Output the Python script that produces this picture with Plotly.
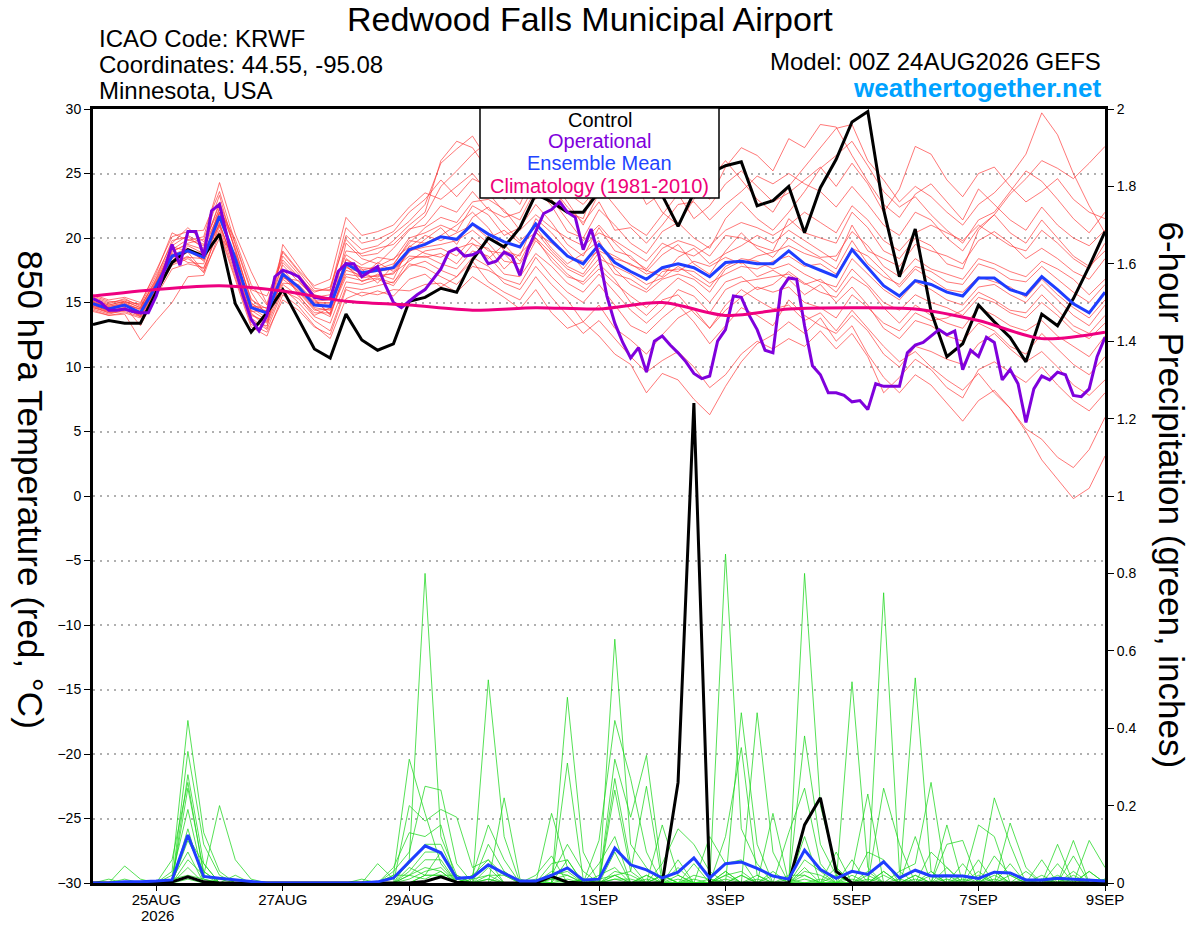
import plotly.graph_objects as go
import pandas as pd

# GEFS 00Z 24AUG2026 run, 6-hourly steps (operational at 3-hourly)
times = pd.date_range("2026-08-24 00:00", periods=65, freq="6h")
times_3h = pd.date_range("2026-08-24 00:00", periods=129, freq="3h")
clim_times = pd.date_range("2026-08-24 00:00", periods=17, freq="1D")

tick_dates = ["2026-08-25", "2026-08-27", "2026-08-29", "2026-09-01",
              "2026-09-03", "2026-09-05", "2026-09-07", "2026-09-09"]
tick_text = ["25AUG", "27AUG", "29AUG", "1SEP", "3SEP", "5SEP", "7SEP", "9SEP"]

# 850 hPa temperature (C)
control_temp = [13.3, 13.6, 13.4, 13.4, 15.8, 18.1, 19.1, 18.6, 20.3, 14.9,
                12.7, 14.2, 16.0, 13.7, 11.4, 10.7, 14.1, 12.1, 11.3, 11.8,
                15.1, 15.4, 16.1, 15.8, 18.3, 20.0, 19.3, 20.8, 23.4, 22.8,
                22.0, 22.0, 23.6, 25.0, 25.5, 24.5, 23.3, 20.9, 23.5, 25.0,
                25.6, 25.9, 22.5, 22.9, 24.0, 20.4, 23.9, 26.1, 29.0, 29.8,
                22.2, 17.0, 20.7, 14.3, 10.8, 11.8, 14.8, 13.5, 12.3, 10.4,
                14.1, 13.2, 15.3, 17.8, 20.5]

operational_temp = [15.3, 15.0, 14.4, 14.4, 14.5, 14.3, 14.2, 14.2, 15.5, 17.5,
                    19.5, 17.9, 20.5, 20.5, 18.6, 22.1, 22.6, 20.0, 17.6, 15.5,
                    13.7, 12.8, 14.0, 17.0, 17.5, 17.3, 17.0, 16.2, 15.4, 15.3,
                    15.3, 17.4, 18.0, 18.0, 17.0, 17.4, 17.8, 16.3, 15.0, 14.6,
                    15.1, 15.6, 16.0, 16.8, 17.6, 18.9, 19.2, 18.6, 18.7, 19.0,
                    18.0, 18.2, 18.9, 18.6, 17.1, 19.1, 20.5, 21.9, 22.2, 22.8,
                    22.0, 21.6, 19.1, 20.7, 18.6, 15.5, 13.4, 11.9, 10.7, 11.5,
                    9.6, 12.0, 12.4, 11.7, 11.1, 10.4, 9.5, 9.1, 9.3, 12.0,
                    12.9, 15.5, 15.4, 14.0, 12.9, 11.3, 11.1, 16.0, 16.9, 16.8,
                    13.2, 10.1, 9.4, 8.0, 8.0, 7.8, 7.3, 7.4, 6.7, 8.7,
                    8.5, 8.5, 8.5, 11.1, 11.7, 11.9, 12.4, 12.9, 12.5, 12.8,
                    9.8, 11.3, 10.8, 12.3, 11.9, 9.0, 9.8, 8.7, 5.7, 8.3,
                    9.3, 9.0, 9.6, 9.4, 7.8, 7.7, 8.3, 10.8, 12.3]

mean_temp = [14.9, 14.5, 14.8, 14.2, 16.3, 18.6, 19.0, 18.5, 21.7, 18.4,
             14.6, 14.2, 17.2, 16.2, 14.8, 14.7, 18.0, 17.3, 17.5, 17.7,
             19.1, 19.5, 20.1, 19.9, 21.1, 20.3, 19.7, 19.3, 21.1, 19.8,
             18.6, 18.0, 19.5, 18.1, 17.4, 16.8, 17.7, 18.0, 17.7, 17.0,
             18.1, 18.2, 18.0, 18.0, 19.0, 18.0, 17.5, 17.0, 19.1, 17.7,
             16.3, 15.5, 16.7, 16.4, 15.8, 15.5, 16.9, 16.9, 16.0, 15.6,
             17.0, 16.0, 14.9, 14.2, 15.8]

clim_temp = [15.5, 16.0, 16.3, 15.9, 15.1, 14.8, 14.4, 14.6, 14.5,
             15.0, 14.0, 14.5, 14.6, 14.5, 13.6, 12.2, 12.7]

member_temps = [
    [15.2, 14.8, 15.1, 14.6, 16.9, 19.8, 20.1, 19.2, 22.8, 19.5, 15.8, 13.9, 18.1, 16.9, 15.2, 14.1, 19.6, 18.4, 18.0, 19.2, 20.6, 21.7,
     24.0, 25.2, 26.5, 27.5, 26.0, 24.2, 23.0, 24.5, 22.8, 21.0, 23.5, 25.0, 26.5, 24.0, 22.0, 21.0, 23.0, 24.5, 26.0, 24.5, 23.0, 22.0,
     24.0, 25.5, 27.0, 28.5, 28.8, 26.0, 24.5, 22.8, 24.0, 23.2, 22.0, 21.0, 22.6, 23.5, 24.8, 26.5, 29.7, 28.0, 25.0, 22.5, 20.4],
    [14.6, 14.2, 14.3, 13.9, 15.8, 17.9, 18.4, 17.6, 20.9, 17.2, 13.5, 13.2, 16.1, 15.0, 13.6, 12.8, 16.2, 16.0, 16.3, 16.6, 17.8, 18.2,
     17.5, 17.0, 18.5, 17.8, 16.5, 16.0, 17.8, 16.4, 15.2, 13.5, 14.8, 13.0, 12.1, 11.0, 12.5, 13.8, 14.5, 13.0, 14.8, 16.0, 15.2, 14.5,
     14.8, 13.6, 14.2, 12.8, 14.4, 13.0, 11.6, 10.4, 11.2, 10.0, 9.0, 8.2, 9.5, 8.0, 6.8, 5.0, 2.8, 1.3, -0.2, 0.6, 3.1],
    [15.0, 14.7, 15.0, 14.4, 16.5, 18.9, 19.6, 19.9, 23.3, 18.9, 14.2, 13.0, 19.5, 17.8, 16.1, 15.9, 20.2, 19.1, 19.4, 20.3, 21.3, 22.6,
     25.8, 26.9, 27.9, 26.0, 24.5, 25.5, 27.2, 25.0, 23.5, 22.6, 24.0, 22.5, 21.0, 20.2, 21.8, 23.4, 21.5, 22.5, 24.2, 25.2, 24.0, 22.8,
     23.5, 24.5, 25.5, 24.0, 25.8, 24.2, 22.0, 23.8, 27.1, 26.5, 24.5, 23.2, 25.0, 25.5, 24.0, 22.8, 23.6, 24.6, 23.0, 22.0, 21.5],
    [14.4, 14.0, 14.1, 12.1, 13.6, 15.0, 17.0, 17.1, 20.4, 16.8, 13.1, 12.4, 15.6, 14.7, 13.2, 12.2, 15.3, 15.8, 15.6, 16.0, 15.9, 16.4,
     16.5, 15.8, 17.0, 16.2, 15.4, 14.5, 16.0, 14.2, 13.0, 13.5, 12.4, 11.0, 10.2, 8.0, 9.5, 9.0, 7.5, 6.3, 8.5, 10.4, 11.8, 12.5,
     13.5, 12.6, 13.8, 12.0, 13.2, 11.0, 9.2, 8.0, 9.4, 8.6, 7.2, 5.8, 7.4, 8.2, 6.8, 5.2, 4.4, 3.0, 2.2, 3.6, 6.1],
    [15.4, 15.0, 15.2, 14.8, 17.1, 19.6, 20.8, 19.7, 22.2, 19.9, 16.4, 14.8, 17.9, 16.6, 15.4, 15.6, 18.7, 17.9, 18.5, 18.3, 20.0, 20.4,
     21.0, 20.5, 22.5, 21.8, 20.2, 20.8, 22.6, 21.2, 19.5, 18.6, 20.8, 19.0, 18.6, 17.4, 18.7, 19.5, 18.0, 17.2, 19.0, 20.4, 19.2, 18.5,
     20.0, 19.2, 18.5, 18.6, 20.5, 19.4, 17.8, 17.0, 18.4, 17.6, 17.2, 16.8, 18.4, 18.0, 17.4, 17.0, 18.2, 17.6, 16.8, 15.6, 16.8],
    [14.8, 14.3, 14.6, 13.9, 16.0, 18.2, 19.4, 18.8, 21.0, 18.0, 14.4, 13.6, 16.8, 15.9, 14.5, 13.9, 17.5, 17.1, 17.0, 17.3, 18.2, 19.0,
     19.2, 18.6, 20.0, 19.0, 18.8, 17.5, 19.8, 18.5, 17.2, 16.4, 17.6, 16.5, 15.5, 14.6, 15.8, 16.9, 16.2, 15.0, 16.6, 17.0, 16.0, 16.4,
     17.4, 16.5, 15.8, 15.4, 17.0, 16.2, 14.6, 13.4, 14.8, 14.0, 13.4, 13.0, 14.6, 14.0, 13.2, 12.8, 13.6, 12.4, 11.6, 10.8, 12.4],
    [15.6, 15.2, 15.4, 15.0, 17.3, 20.4, 19.8, 20.1, 24.3, 20.3, 17.4, 14.9, 19.0, 17.5, 16.3, 16.8, 21.6, 20.2, 20.5, 21.0, 22.4, 23.5,
     23.0, 24.0, 25.0, 23.5, 22.0, 21.4, 23.8, 22.5, 20.5, 20.0, 22.2, 21.0, 19.6, 18.8, 20.5, 21.2, 20.0, 19.2, 21.5, 22.8, 21.5, 20.6,
     22.0, 23.6, 25.4, 26.4, 27.5, 25.6, 23.6, 22.4, 23.2, 21.8, 20.6, 19.6, 21.4, 22.0, 23.6, 25.2, 24.4, 23.0, 21.5, 20.4, 22.0],
    [14.7, 14.4, 14.5, 14.0, 16.2, 18.8, 18.1, 18.0, 21.4, 18.5, 14.9, 14.3, 16.5, 16.4, 15.1, 15.2, 17.9, 16.6, 17.2, 16.8, 19.4, 18.8,
     18.5, 19.2, 19.6, 18.4, 19.5, 18.2, 20.5, 19.0, 17.8, 17.2, 18.9, 17.2, 16.8, 16.0, 17.4, 17.6, 17.4, 16.5, 17.2, 17.8, 17.6, 18.2,
     18.6, 17.8, 18.0, 17.2, 19.2, 18.6, 17.4, 16.2, 17.6, 16.8, 16.0, 15.8, 17.0, 16.6, 16.2, 15.4, 16.8, 15.6, 14.6, 13.8, 15.2],
    [15.1, 14.6, 14.9, 14.3, 16.6, 18.2, 18.9, 17.4, 20.0, 18.8, 15.3, 14.1, 17.4, 15.6, 14.0, 14.6, 18.4, 17.6, 16.5, 17.9, 19.8, 19.6,
     20.2, 21.0, 22.0, 20.8, 19.0, 18.6, 21.5, 20.4, 19.0, 17.6, 19.2, 18.6, 17.9, 17.5, 17.0, 18.5, 19.2, 18.0, 18.8, 19.4, 20.2, 19.6,
     20.6, 19.8, 19.0, 18.2, 21.0, 19.0, 18.4, 17.8, 19.5, 19.0, 18.6, 18.0, 19.8, 20.5, 19.6, 18.4, 19.2, 18.4, 17.4, 16.8, 18.4],
    [14.5, 14.1, 14.4, 14.1, 16.0, 18.4, 19.2, 18.6, 22.0, 17.9, 14.0, 13.5, 17.0, 16.0, 14.6, 14.4, 17.2, 17.0, 18.1, 17.4, 18.9, 19.9,
     20.8, 19.5, 21.6, 22.4, 21.0, 19.8, 20.8, 19.2, 18.0, 18.8, 19.8, 17.6, 16.4, 15.8, 16.8, 17.2, 16.8, 15.8, 17.6, 18.2, 17.0, 17.5,
     16.8, 15.6, 16.4, 15.0, 16.2, 14.8, 13.0, 12.2, 13.6, 13.2, 12.4, 12.0, 13.4, 12.8, 11.6, 11.0, 12.6, 11.4, 10.2, 9.4, 10.8],
    [15.3, 14.9, 15.3, 14.7, 16.7, 19.1, 19.9, 19.4, 21.9, 18.2, 14.7, 14.6, 18.6, 17.2, 15.6, 15.3, 19.0, 18.8, 19.2, 19.5, 20.7, 21.0,
     22.5, 22.0, 23.6, 22.2, 21.6, 22.0, 24.2, 23.0, 21.4, 19.8, 21.0, 19.6, 18.4, 17.6, 19.2, 19.8, 19.4, 18.6, 20.2, 20.0, 19.4, 19.0,
     21.5, 20.4, 20.0, 19.6, 22.0, 20.8, 19.0, 18.4, 20.0, 19.4, 18.0, 17.6, 20.6, 21.8, 20.4, 19.6, 21.4, 20.0, 18.6, 17.8, 19.0],
    [14.9, 14.5, 14.7, 13.2, 15.6, 18.0, 18.6, 17.3, 21.2, 17.5, 13.8, 12.9, 15.9, 15.3, 13.9, 13.4, 16.6, 16.4, 16.8, 16.3, 18.0, 17.7,
     17.0, 16.4, 17.8, 17.5, 16.8, 16.4, 18.5, 17.0, 15.8, 15.0, 16.4, 14.8, 13.2, 12.6, 13.8, 14.8, 13.5, 11.8, 13.2, 14.6, 14.0, 13.2,
     15.2, 14.0, 13.2, 12.6, 14.0, 12.8, 11.0, 10.0, 11.6, 11.2, 10.6, 10.2, 11.8, 12.6, 11.4, 10.4, 11.2, 10.0, 8.6, 7.8, 9.0],
    [15.0, 14.6, 14.8, 14.5, 16.4, 19.3, 19.0, 18.3, 22.4, 19.2, 15.0, 14.0, 17.6, 16.1, 14.9, 14.9, 18.1, 17.5, 17.8, 18.4, 19.3, 20.2,
     19.8, 20.4, 21.0, 20.0, 20.6, 19.6, 20.4, 19.6, 18.6, 18.2, 19.0, 18.4, 18.0, 17.2, 17.6, 17.4, 18.2, 17.8, 18.5, 18.0, 18.6, 18.9,
     19.4, 18.8, 18.4, 17.6, 19.8, 18.0, 17.0, 16.4, 17.8, 17.4, 16.6, 16.4, 18.0, 17.6, 16.8, 16.6, 17.8, 16.8, 15.8, 15.0, 16.4],
    [14.6, 14.3, 14.4, 14.2, 16.1, 18.5, 18.9, 18.9, 21.5, 18.6, 14.6, 13.8, 16.9, 16.7, 15.3, 14.0, 17.7, 17.3, 17.4, 17.6, 18.6, 18.5,
     18.8, 18.0, 19.5, 19.2, 17.6, 18.8, 20.0, 18.2, 17.0, 16.6, 18.0, 16.8, 15.0, 14.0, 15.2, 15.6, 14.2, 13.0, 14.4, 15.4, 16.2, 15.8,
     16.2, 15.0, 14.6, 13.8, 15.6, 14.6, 13.4, 12.8, 14.2, 13.6, 13.8, 14.4, 15.8, 15.2, 14.4, 14.2, 15.6, 14.4, 13.2, 12.6, 14.0],
    [15.5, 15.1, 15.0, 14.9, 17.5, 20.1, 20.5, 20.6, 23.6, 19.6, 16.0, 15.5, 18.3, 17.0, 15.8, 16.2, 19.9, 18.6, 18.8, 19.8, 21.0, 22.0,
     26.0, 27.5, 27.0, 25.2, 23.8, 22.6, 25.5, 24.2, 22.0, 21.5, 24.8, 27.4, 25.0, 22.6, 23.5, 25.0, 24.0, 23.0, 25.5, 27.0, 26.4, 25.2,
     27.7, 27.0, 28.8, 28.6, 26.4, 24.4, 22.6, 21.6, 23.4, 24.2, 22.8, 21.4, 23.8, 22.6, 21.4, 20.6, 22.4, 21.0, 20.0, 19.4, 20.6],
    [14.3, 14.0, 14.2, 13.8, 15.5, 17.6, 18.0, 17.7, 20.6, 17.0, 13.3, 12.7, 15.2, 14.4, 13.1, 12.5, 16.0, 15.5, 15.9, 15.5, 16.8, 17.2,
     16.2, 17.0, 18.2, 16.6, 15.8, 15.2, 17.0, 15.4, 14.0, 12.6, 13.6, 12.2, 10.8, 9.6, 10.5, 11.2, 10.0, 8.4, 9.4, 11.0, 12.0, 11.4,
     12.2, 11.6, 12.8, 11.4, 12.6, 10.8, 8.0, 9.2, 10.6, 9.8, 8.4, 7.6, 9.8, 10.4, 9.6, 8.8, 10.0, 8.6, 7.4, 6.6, 8.0],
    [15.1, 14.7, 14.9, 14.5, 16.6, 19.0, 19.5, 19.1, 22.0, 18.1, 14.3, 14.4, 17.3, 16.3, 15.0, 15.0, 18.3, 17.7, 17.6, 18.0, 19.6, 20.8,
     21.6, 21.2, 22.8, 23.0, 22.2, 20.6, 21.8, 20.8, 20.0, 19.4, 20.4, 19.8, 19.0, 18.2, 19.6, 19.0, 18.6, 19.4, 20.6, 21.2, 20.8, 20.2,
     21.0, 22.0, 21.2, 20.4, 22.5, 21.4, 19.8, 19.0, 20.4, 21.0, 20.4, 19.8, 21.0, 20.2, 19.4, 19.0, 20.6, 19.6, 18.4, 17.6, 19.6],
    [14.8, 14.4, 14.6, 14.1, 16.3, 18.7, 19.2, 18.2, 21.6, 18.4, 14.8, 14.1, 17.1, 15.8, 14.4, 14.5, 17.8, 16.9, 17.1, 17.2, 19.0, 19.3,
     19.5, 19.8, 20.6, 19.6, 18.2, 18.0, 20.0, 18.8, 17.6, 17.0, 18.4, 17.8, 17.2, 16.4, 16.9, 17.8, 17.0, 16.2, 17.8, 18.4, 18.2, 17.6,
     18.0, 17.2, 16.6, 16.2, 18.4, 17.2, 16.0, 15.2, 16.6, 16.0, 15.2, 14.8, 16.2, 16.4, 15.6, 15.0, 16.4, 15.2, 14.0, 13.2, 14.8],
    [15.2, 14.8, 15.1, 14.6, 16.8, 19.4, 20.2, 19.5, 22.6, 19.1, 15.2, 14.5, 18.9, 17.4, 15.9, 16.0, 20.8, 19.6, 19.9, 20.5, 22.0, 23.0,
     24.5, 23.2, 24.6, 24.0, 23.0, 23.6, 25.8, 24.0, 22.4, 21.2, 22.8, 20.6, 20.8, 19.6, 21.0, 22.6, 22.8, 21.4, 22.6, 23.6, 24.8, 24.2,
     25.0, 24.2, 23.6, 22.4, 24.0, 22.6, 21.0, 20.2, 22.0, 21.4, 20.0, 19.0, 20.8, 21.8, 23.4, 24.6, 26.0, 25.4, 24.6, 25.8, 27.1],
    [14.7, 14.2, 14.5, 14.0, 16.0, 18.1, 18.5, 18.4, 21.1, 17.7, 14.1, 13.4, 16.4, 15.5, 14.2, 14.2, 17.0, 16.7, 16.9, 16.5, 18.4, 18.6,
     18.0, 17.6, 19.0, 18.6, 17.2, 17.0, 18.8, 17.8, 16.5, 15.8, 17.2, 15.8, 14.4, 13.4, 14.5, 16.0, 15.5, 14.2, 16.0, 16.6, 16.8, 17.0,
     17.2, 16.4, 16.8, 15.8, 17.6, 16.4, 15.0, 14.4, 15.6, 15.0, 14.6, 14.0, 15.4, 15.0, 14.2, 13.8, 15.0, 14.0, 12.8, 12.2, 13.4],
]

# 6-hour precipitation (inches)
control_precip = [0, 0, 0, 0, 0, .003, .016, .003, 0, 0,
                  0, 0, 0, 0, 0, 0, 0, 0, 0, 0,
                  0, .004, .016, .002, 0, 0, 0, 0, 0, .017,
                  .002, 0, 0, 0, 0, 0, 0, .26, 1.24, 0,
                  0, 0, 0, 0, 0, .15, .22, .03, 0, 0,
                  0, 0, 0, 0, 0, 0, 0, 0, 0, 0,
                  0, 0, 0, 0, 0]

mean_precip = [0, 0, .003, .003, .005, .008, .124, .017, .012, .008,
               .003, 0, 0, 0, 0, 0, 0, 0, .003, .013,
               .055, .096, .078, .012, .015, .047, .025, .005, .005, .02,
               .039, .008, .01, .09, .047, .034, .013, .028, .065, .013,
               .05, .054, .038, .018, .01, .085, .035, .012, .03, .022,
               .055, .013, .033, .018, .019, .018, .012, .028, .026, .008,
               .008, .012, .01, .008, .005]

member_precips = [
    [0, 0, .01, 0, 0, .03, .42, .13, .03, 0, 0, 0, 0, 0, 0, 0, 0, 0, 0, 0,
     .06, .80, .12, .02, 0, .10, .03, 0, 0, .05, .06, 0, 0, .27, .05, 0, 0, .04, 0, 0,
     .85, .14, .05, 0, 0, .06, .03, 0, 0, 0, .03, 0, .02, 0, 0, 0, 0, .07, .02, 0, 0, 0, .03, 0, 0],
    [0, 0, 0, 0, 0, 0, .34, .10, .02, 0, 0, 0, 0, 0, 0, 0, 0, 0, 0, .02,
     .32, .18, .05, 0, 0, .525, .12, 0, 0, .02, .10, .03, 0, .63, .10, .04, 0, 0, .05, 0,
     0, .44, .10, 0, 0, .38, .10, .02, 0, .08, .06, 0, 0, .08, .04, 0, 0, .03, 0, 0, 0, .05, 0, .03, 0],
    [0, 0, .044, .01, 0, 0, .28, .05, 0, .02, 0, 0, 0, 0, 0, 0, 0, 0, 0, .03,
     .08, .25, .24, .05, 0, 0, .22, .01, 0, 0, .48, .08, 0, .08, 0, 0, .05, .14, .10, .03,
     0, 0, .44, .08, 0, .12, 0, 0, .52, .04, 0, 0, .12, 0, 0, .05, 0, 0, .155, .04, 0, 0, 0, .11, .04],
    [0, 0, 0, 0, 0, .06, .26, .02, .20, .06, .01, 0, 0, 0, 0, 0, 0, 0, 0, 0,
     .20, .16, .19, .17, .04, .06, 0, 0, 0, .18, .04, 0, .11, .42, .27, .08, 0, 0, 0, .12,
     .05, .06, 0, 0, 0, .80, .20, .04, 0, 0, .245, .10, 0, 0, .15, 0, .06, 0, 0, 0, .06, 0, .11, 0, 0],
    [0, 0, 0, 0, 0, 0, .245, .03, 0, 0, 0, 0, 0, 0, 0, 0, 0, 0, 0, .04,
     .13, .12, .15, 0, .02, .15, .06, 0, 0, 0, .31, .01, 0, .32, .17, .33, .02, 0, 0, 0,
     .12, .35, .02, 0, .13, .245, .05, 0, .06, 0, .75, .03, .05, .26, 0, 0, 0, .22, .10, 0, 0, .10, 0, 0, 0],
    [0, 0, 0, 0, 0, .02, .19, .01, 0, 0, 0, 0, 0, 0, 0, 0, 0, 0, .05, .01,
     .05, .10, .10, .01, 0, .04, 0, 0, .02, .07, 0, 0, 0, .24, .03, .25, 0, .06, 0, 0,
     .03, 0, 0, .18, 0, .04, 0, 0, .03, .23, 0, 0, .53, .03, 0, 0, .15, .12, 0, 0, 0, 0, .07, 0, 0],
    [0, 0, 0, 0, 0, 0, .14, 0, .01, 0, 0, 0, 0, 0, 0, 0, 0, .01, 0, 0,
     .03, .08, .08, 0, 0, .02, 0, 0, 0, .03, .02, 0, .05, .12, 0, 0, .15, .02, 0, 0,
     .02, .03, 0, 0, .02, .02, 0, .08, 0, 0, .03, 0, 0, 0, .10, .11, 0, 0, .05, 0, .02, 0, 0, .03, 0],
    [0, .01, 0, 0, 0, 0, .12, .05, 0, 0, 0, 0, 0, 0, 0, 0, 0, 0, 0, 0,
     .02, .06, .06, 0, .01, .02, .02, 0, 0, .01, 0, 0, .02, .04, 0, .02, 0, 0, .02, .01,
     0, 0, .02, 0, 0, 0, 0, 0, .02, 0, 0, 0, 0, .02, 0, .02, 0, 0, 0, .03, 0, 0, .02, 0, .01],
    [0, 0, 0, 0, 0, 0, .11, .03, 0, 0, 0, 0, 0, 0, 0, 0, 0, 0, 0, .02,
     .02, .04, .03, 0, 0, 0, 0, 0, .01, 0, .06, 0, .01, .02, 0, 0, .02, 0, 0, 0,
     0, 0, 0, .03, 0, 0, 0, 0, 0, .02, 0, 0, 0, 0, .02, 0, .03, 0, 0, 0, 0, .01, 0, 0, 0],
    [0, 0, 0, 0, 0, .01, .08, 0, 0, 0, 0, 0, 0, 0, 0, 0, 0, 0, 0, 0,
     0, .02, .02, 0, 0, .01, 0, 0, 0, 0, 0, .01, 0, .02, .03, 0, 0, .01, 0, 0,
     .02, 0, 0, 0, 0, 0, 0, .02, 0, 0, 0, 0, .02, 0, 0, 0, 0, .01, 0, 0, 0, 0, 0, 0, .01],
    [0, 0, 0, 0, 0, 0, .06, .02, 0, 0, 0, 0, 0, 0, 0, 0, 0, 0, 0, 0,
     .04, .02, .08, .01, 0, 0, .03, 0, 0, .02, .03, 0, 0, .02, 0, .02, 0, 0, .01, 0,
     0, .02, 0, 0, 0, .03, .02, 0, 0, .03, 0, .03, 0, 0, .04, 0, 0, 0, .02, 0, 0, 0, .01, 0, 0],
    [0, 0, 0, 0, 0, 0, .04, 0, 0, 0, 0, 0, 0, 0, 0, 0, 0, 0, 0, 0,
     .01, .03, .04, 0, .02, .06, .02, 0, 0, .01, .02, 0, 0, .03, .02, 0, 0, .02, 0, 0,
     .03, 0, .01, 0, 0, .02, 0, .04, 0, 0, .02, 0, 0, .03, 0, .01, 0, .03, 0, 0, .01, 0, 0, .01, 0],
    [0, 0, 0, 0, 0, .01, .02, .01, 0, 0, 0, 0, 0, 0, 0, 0, 0, 0, 0, 0,
     0, .02, .02, .02, 0, 0, 0, 0, 0, .02, 0, .01, 0, .01, .01, 0, .02, 0, 0, .01,
     0, .02, 0, 0, .01, 0, .01, 0, .01, 0, 0, .01, 0, 0, .01, 0, .02, 0, 0, .01, 0, .02, 0, 0, 0],
    [0, 0, 0, 0, 0, 0, .01, 0, 0, 0, 0, 0, 0, 0, 0, 0, 0, 0, 0, 0,
     .02, .01, .03, 0, 0, .01, 0, 0, 0, 0, .01, 0, 0, .01, 0, .01, 0, 0, 0, 0,
     .01, 0, 0, .02, 0, .01, 0, 0, 0, .01, 0, 0, .01, 0, 0, 0, 0, .02, 0, 0, .01, 0, 0, 0, 0],
]

FONT = "Liberation Sans, Arial, Helvetica, sans-serif"


def paper(px, py):
    # pixel position in the 1200x927 picture -> paper coords of the plot area
    return (px - 93) / 1012, (883 - py) / 773


fig = go.Figure()

for m in member_temps:
    fig.add_trace(go.Scatter(x=times, y=m, mode="lines", hoverinfo="skip",
                             line=dict(color="rgba(255,55,55,0.85)", width=0.8)))
for m in member_precips:
    fig.add_trace(go.Scatter(x=times, y=m, yaxis="y2", mode="lines", hoverinfo="skip",
                             line=dict(color="rgba(30,215,30,0.95)", width=0.8)))

fig.add_trace(go.Scatter(x=times, y=control_temp, mode="lines", name="Control",
                         line=dict(color="black", width=3)))
fig.add_trace(go.Scatter(x=times, y=control_precip, yaxis="y2", mode="lines",
                         line=dict(color="black", width=3)))
fig.add_trace(go.Scatter(x=times, y=mean_temp, mode="lines", name="Ensemble Mean",
                         line=dict(color="#1f3dff", width=3)))
fig.add_trace(go.Scatter(x=times, y=mean_precip, yaxis="y2", mode="lines",
                         line=dict(color="#1f3dff", width=3)))
fig.add_trace(go.Scatter(x=times_3h, y=operational_temp, mode="lines", name="Operational",
                         line=dict(color="#7f00dc", width=3)))
fig.add_trace(go.Scatter(x=clim_times, y=clim_temp, mode="lines", name="Climatology",
                         line=dict(color="#ee0080", width=3, shape="spline", smoothing=0.8)))

# legend box in the top of the plot
x0, y0 = paper(480, 199)
x1, y1 = paper(719, 109)
fig.add_shape(type="rect", xref="paper", yref="paper", x0=x0, x1=x1, y0=y0, y1=y1,
              fillcolor="white", line=dict(color="black", width=1.5), layer="above")

legend_rows = [("Control", "black", 121), ("Operational", "#8000dc", 142),
               ("Ensemble Mean", "#2244ff", 164), ("Climatology (1981-2010)", "#ee0077", 187)]
for txt, col, py in legend_rows:
    ax, ay = paper(599.5, py)
    fig.add_annotation(x=ax, y=ay, xref="paper", yref="paper", text=txt, showarrow=False,
                       xanchor="center", yanchor="middle", font=dict(size=20, color=col, family=FONT))

texts = [
    ("Redwood Falls Municipal Airport", 590, 20, "center", 34, "black"),
    ("ICAO Code: KRWF", 97, 40, "left", 24, "black"),
    ("Coordinates: 44.55, -95.08", 97, 66, "left", 24, "black"),
    ("Minnesota, USA", 97, 92, "left", 24, "black"),
    ("Model: 00Z 24AUG2026 GEFS", 1103, 63, "right", 24, "black"),
    ("<b>weathertogether.net</b>", 1103, 89, "right", 26, "#00a2ff"),
    ("2026", 157, 915, "center", 15, "black"),
]
for txt, px, py, anchor, size, col in texts:
    ax, ay = paper(px, py)
    fig.add_annotation(x=ax, y=ay, xref="paper", yref="paper", text=txt, showarrow=False,
                       xanchor=anchor, yanchor="middle", font=dict(size=size, color=col, family=FONT))

# axis titles, read top to bottom
ax, ay = paper(31, 490)
fig.add_annotation(x=ax, y=ay, xref="paper", yref="paper", text="850 hPa Temperature (red, °C)",
                   showarrow=False, textangle=90, xanchor="center", yanchor="middle",
                   font=dict(size=35, color="black", family=FONT))
ax, ay = paper(1172, 495)
fig.add_annotation(x=ax, y=ay, xref="paper", yref="paper", text="6-hour Precipitation (green, inches)",
                   showarrow=False, textangle=90, xanchor="center", yanchor="middle",
                   font=dict(size=35, color="black", family=FONT))

fig.update_layout(
    width=1200, height=927,
    margin=dict(l=93, r=95, t=109, b=44, autoexpand=False),
    paper_bgcolor="white", plot_bgcolor="white",
    showlegend=False,
    font=dict(family=FONT, color="black", size=14),
    xaxis=dict(type="date", range=[times[0], times[-1]], tickmode="array",
               tickvals=tick_dates, ticktext=tick_text, ticks="outside", ticklen=5,
               tickcolor="black", showline=True, linewidth=3, linecolor="black",
               mirror=True, showgrid=False, zeroline=False, automargin=False,
               ticklabelstandoff=-4, tickfont=dict(size=15)),
    yaxis=dict(range=[-30, 30], tick0=-30, dtick=5, ticks="outside", ticklen=6,
               tickcolor="black", showline=True, linewidth=3, linecolor="black",
               showgrid=True, gridcolor="#b0b0b0", gridwidth=1.5, griddash="2px,5px",
               zeroline=False, automargin=False, tickfont=dict(size=14)),
    yaxis2=dict(range=[0, 2], tick0=0, dtick=0.2, overlaying="y", side="right",
                ticks="outside", ticklen=6, tickcolor="black", showline=True,
                linewidth=3, linecolor="black", showgrid=False, zeroline=False,
                automargin=False, tickfont=dict(size=14)),
)

# drop the default 8px page margin so the figure sits at the window corner
fig.write_html("out.html", config={"displayModeBar": False},
               post_script="document.body.style.margin = '0';")
